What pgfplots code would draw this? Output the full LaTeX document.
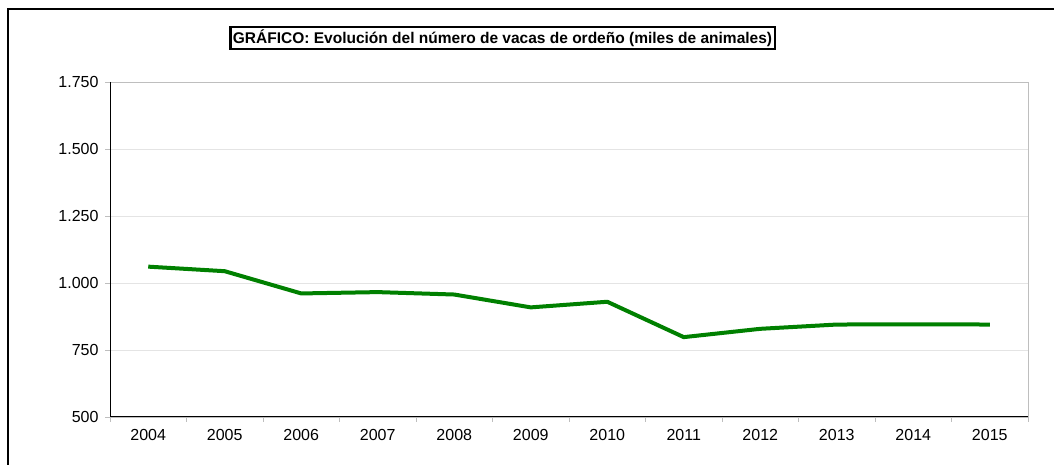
\documentclass[border=0pt]{standalone}
\usepackage{pgfplots}
\pgfplotsset{compat=1.18}
\usepackage{fontspec}
\setmainfont{Liberation Sans}
\definecolor{linegreen}{RGB}{0,128,0}
\definecolor{gridgray}{RGB}{228,228,228}
\definecolor{boxgray}{RGB}{190,190,190}
\begin{document}
\begin{tikzpicture}[x=1pt,y=1pt]
\useasboundingbox (0,0) rectangle (1054,465);
\draw[line width=2.6pt] (8,-20) -- (8,456) -- (1080,456);
\node[draw, line width=2.2pt, inner sep=2.5pt, font=\bfseries\fontsize{15.5}{18}\selectfont] at (502.5,427) {GRÁFICO: Evolución del número de vacas de ordeño (miles de animales)};
\begin{axis}[
  at={(110pt,48pt)}, anchor=south west,
  scale only axis, width=918pt, height=335pt,
  xmin=-0.5, xmax=11.5, ymin=500, ymax=1750,
  xtick={0,...,11},
  xticklabels={2004,2005,2006,2007,2008,2009,2010,2011,2012,2013,2014,2015},
  minor xtick={-0.5,0.5,...,11.5},
  ytick={500,750,1000,1250,1500,1750},
  xtick pos=bottom, ytick pos=left,
  tick align=outside,
  major tick length=5pt, minor tick length=5pt,
  x tick style={draw=none},
  minor x tick style={draw=boxgray, line width=0.8pt},
  y tick style={draw=boxgray, line width=0.8pt},
  ymajorgrids, major grid style={gridgray, line width=0.8pt},
  axis line style={boxgray, line width=0.8pt},
  ticklabel style={font=\fontsize{16}{19}\selectfont},
  yticklabel style={xshift=-3pt},
  xticklabel style={yshift=-4pt},
  /pgf/number format/assume math mode=true,
  /pgf/number format/.cd, 1000 sep={.}, /tikz/.cd,
  clip=false,
]
\addplot[linegreen, line width=4pt, line join=round] coordinates {
 (0,1061) (1,1044) (2,961) (3,966) (4,957) (5,909) (6,930) (7,798) (8,829) (9,845) (10,846) (11,845)
};
\draw[black, line width=1pt] (rel axis cs:0,1) -- (rel axis cs:0,0) -- (rel axis cs:1,0);
\end{axis}
\end{tikzpicture}
\end{document}
